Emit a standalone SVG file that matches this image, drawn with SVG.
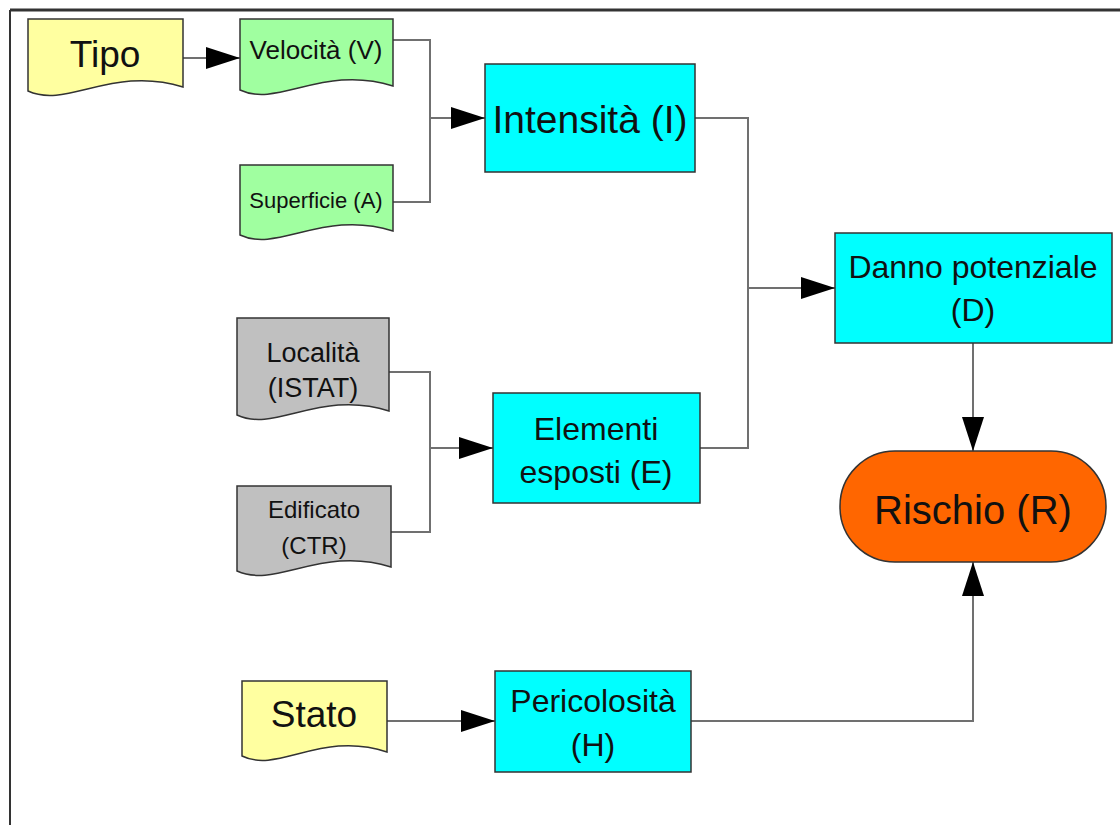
<svg xmlns="http://www.w3.org/2000/svg" width="1120" height="825" viewBox="0 0 1120 825">
<defs>
<style>
.doc{stroke:#333;stroke-width:1.5}
.box{fill:#00FFFF;stroke:#333;stroke-width:1.5}
.yel{fill:#FFFFA0}
.grn{fill:#A0FFA0}
.gry{fill:#C0C0C0}
.t{font-family:"Liberation Sans",Arial,sans-serif;fill:#111;text-anchor:middle}
.c{fill:none;stroke:#707070;stroke-width:2}
.frame{stroke:#333;fill:none}
</style>
<marker id="ah" markerUnits="userSpaceOnUse" markerWidth="36" markerHeight="24" refX="34" refY="11" orient="auto">
<path d="M0,0 L34,11 L0,22 Z" fill="#000"/>
</marker>
</defs>
<rect width="1120" height="825" fill="#fff"/>
<line class="frame" x1="10" y1="10" x2="1120" y2="10" stroke-width="3"/>
<line class="frame" x1="10" y1="10" x2="10" y2="825" stroke-width="2"/>

<g id="connectors">
<line class="c" x1="183" y1="58" x2="240" y2="58" marker-end="url(#ah)"/>
<polyline class="c" points="393,40 430,40 430,202 393,202"/>
<line class="c" x1="430" y1="118" x2="485" y2="118" marker-end="url(#ah)"/>
<polyline class="c" points="695,118 748,118 748,448 700,448"/>
<line class="c" x1="748" y1="288" x2="835" y2="288" marker-end="url(#ah)"/>
<polyline class="c" points="389,372 430,372 430,532 391,532"/>
<line class="c" x1="430" y1="448" x2="493" y2="448" marker-end="url(#ah)"/>
<line class="c" x1="387" y1="721" x2="495" y2="721" marker-end="url(#ah)"/>
<line class="c" x1="973" y1="343" x2="973" y2="451" marker-end="url(#ah)"/>
<polyline class="c" points="691,721 973,721 973,562" marker-end="url(#ah)"/>
</g>

<g id="tipo">
<path class="doc yel" d="M28,19 H183 V87 C113,65 67,109 28,91 Z"/>
<text class="t" x="105" y="67" font-size="37">Tipo</text>
</g>
<g id="velocita">
<path class="doc grn" d="M240,19 H393 V86 C324,64 278,108 240,90 Z"/>
<text class="t" x="316" y="59" font-size="26">Velocità (V)</text>
</g>
<g id="superficie">
<path class="doc grn" d="M240,165 H393 V231 C324,209 278,253 240,235 Z"/>
<text class="t" x="316" y="208" font-size="22">Superficie (A)</text>
</g>
<g id="intensita">
<rect class="box" x="485" y="64" width="210" height="108"/>
<text class="t" x="590" y="133" font-size="39">Intensità (I)</text>
</g>
<g id="danno">
<rect class="box" x="835" y="233" width="277" height="110"/>
<text class="t" x="973" y="278" font-size="32">Danno potenziale</text>
<text class="t" x="973" y="321" font-size="32">(D)</text>
</g>
<g id="localita">
<path class="doc gry" d="M237,318 H389 V411 C321,389 275,433 237,415 Z"/>
<text class="t" x="313" y="362" font-size="27">Località</text>
<text class="t" x="313" y="397" font-size="27">(ISTAT)</text>
</g>
<g id="edificato">
<path class="doc gry" d="M237,486 H391 V567 C322,545 276,589 237,571 Z"/>
<text class="t" x="314" y="518" font-size="24">Edificato</text>
<text class="t" x="314" y="554" font-size="24">(CTR)</text>
</g>
<g id="elementi">
<rect class="box" x="493" y="393" width="207" height="110"/>
<text class="t" x="596" y="440" font-size="32">Elementi</text>
<text class="t" x="596" y="483" font-size="32">esposti (E)</text>
</g>
<g id="rischio">
<rect x="840" y="451" width="266" height="111" rx="55" ry="55" fill="#FF6600" stroke="#333" stroke-width="1.5"/>
<text class="t" x="973" y="524" font-size="40">Rischio (R)</text>
</g>
<g id="stato">
<path class="doc yel" d="M242,681 H387 V752 C322,730 278,774 242,756 Z"/>
<text class="t" x="314" y="727" font-size="37">Stato</text>
</g>
<g id="pericolosita">
<rect class="box" x="495" y="671" width="196" height="101"/>
<text class="t" x="593" y="712" font-size="32">Pericolosità</text>
<text class="t" x="593" y="756" font-size="32">(H)</text>
</g>
</svg>
